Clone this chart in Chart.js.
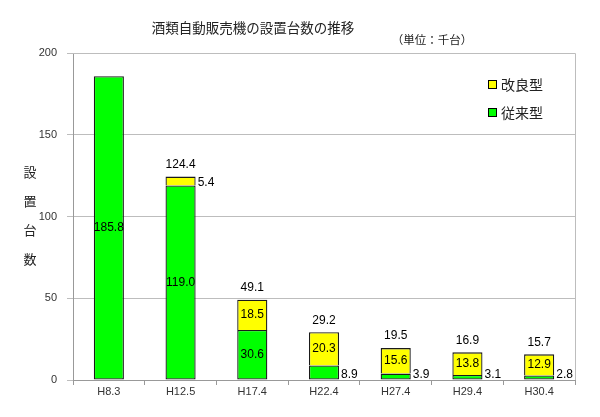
<!DOCTYPE html>
<html>
<head>
<meta charset="utf-8">
<script src="https://cdn.jsdelivr.net/npm/chart.js@4"></script>
<style>
  html, body { margin: 0; padding: 0; background: #fff; }
  #wrap { width: 600px; height: 417px; }
</style>
</head>
<body>
<div id="wrap"><canvas id="chart" width="600" height="417"></canvas></div>
<script>
// ── Data ─────────────────────────────────────────────────────────
const categories = ['H8.3', 'H12.5', 'H17.4', 'H22.4', 'H27.4', 'H29.4', 'H30.4'];
const conventional = [185.8, 119.0, 30.6, 8.9, 3.9, 3.1, 2.8];   // 従来型
const improved     = [null, 5.4, 18.5, 20.3, 15.6, 13.8, 12.9];  // 改良型

const FONT = "'Liberation Sans', Arial, 'Noto Sans CJK JP', sans-serif";
const GREEN = '#00ff00';
const YELLOW = '#ffff00';
const EDGE = '#1a1a1a';

// ── Labels, legend, titles drawn on top ──────────────────────────
const overlay = {
  id: 'overlay',
  afterDatasetsDraw(chart) {
    const { ctx, chartArea } = chart;
    ctx.save();

    // plot border (top / right)
    ctx.strokeStyle = '#bdbdbd';
    ctx.lineWidth = 1;
    ctx.beginPath();
    ctx.moveTo(chartArea.left, chartArea.top + 0.5);
    ctx.lineTo(chartArea.right + 0.5, chartArea.top + 0.5);
    ctx.lineTo(chartArea.right + 0.5, chartArea.bottom);
    ctx.stroke();

    // value labels
    ctx.fillStyle = '#000';
    ctx.font = '12px ' + FONT;
    ctx.textBaseline = 'middle';
    const metaG = chart.getDatasetMeta(0);
    const metaY = chart.getDatasetMeta(1);
    categories.forEach((_, i) => {
      [[metaG, conventional[i], 0], [metaY, improved[i], 1]].forEach(([meta, v, ds]) => {
        if (v == null) return;
        const el = meta.data[i];
        const top = Math.min(el.y, el.base), bottom = Math.max(el.y, el.base);
        const h = bottom - top;
        if (h >= 16) {
          ctx.textAlign = 'center';
          ctx.fillText(v.toFixed(1), el.x, (top + bottom) / 2);
        } else {
          ctx.textAlign = 'left';
          const y = ds === 0 ? bottom - 5 : (top + bottom) / 2 + 2;
          ctx.fillText(v.toFixed(1), el.x + el.width / 2 + 2, y);
        }
      });
      if (improved[i] != null) {
        const total = conventional[i] + improved[i];
        const el = metaY.data[i];
        ctx.textAlign = 'center';
        ctx.fillText(total.toFixed(1), el.x, el.y - 12);
      }
    });

    // legend
    const items = [['改良型', YELLOW, 85], ['従来型', GREEN, 113]];
    ctx.font = '14px ' + FONT;
    ctx.textAlign = 'left';
    items.forEach(([txt, col, y]) => {
      ctx.fillStyle = col;
      ctx.fillRect(488.5, y - 4.5, 8, 8);
      ctx.strokeStyle = '#000';
      ctx.strokeRect(488.5, y - 4.5, 8, 8);
      ctx.fillStyle = '#222';
      ctx.fillText(txt, 501, y + 1);
    });

    // title and unit
    ctx.fillStyle = '#222';
    ctx.textAlign = 'center';
    ctx.font = '13.5px ' + FONT;
    ctx.fillText('酒類自動販売機の設置台数の推移', 253, 29);
    ctx.font = '11.5px ' + FONT;
    ctx.fillText('（単位：千台）', 432, 41);

    // vertical y-axis title
    ctx.font = '13px ' + FONT;
    ['設', '置', '台', '数'].forEach((c, k) => ctx.fillText(c, 30, 173 + k * 29));

    ctx.restore();
  }
};

new Chart(document.getElementById('chart'), {
  type: 'bar',
  data: {
    labels: categories,
    datasets: [
      { label: '従来型', data: conventional, backgroundColor: GREEN, borderColor: EDGE, borderWidth: 1.3, borderSkipped: false },
      { label: '改良型', data: improved, backgroundColor: YELLOW, borderColor: EDGE, borderWidth: 1.3, borderSkipped: 'bottom' },
    ],
  },
  options: {
    responsive: false,
    animation: false,
    devicePixelRatio: 1,
    layout: { padding: { top: 53, right: 25, left: 0, bottom: 0 } },
    datasets: { bar: { categoryPercentage: 1, barPercentage: 0.42 } },
    plugins: { legend: { display: false }, title: { display: false }, tooltip: { enabled: false } },
    scales: {
      x: {
        stacked: true,
        afterFit: s => { s.height = 37; },
        grid: { drawOnChartArea: false, drawTicks: true, tickLength: 5, color: '#999', offset: true },
        border: { color: '#999' },
        ticks: { color: '#333', font: { family: FONT, size: 11 }, padding: 0 },
      },
      y: {
        stacked: true,
        min: 0, max: 200,
        afterFit: s => { s.width = 73; },
        grid: { color: '#bdbdbd', tickLength: 6 },
        border: { color: '#999' },
        ticks: { stepSize: 50, color: '#333', font: { family: FONT, size: 11 }, padding: 10 },
      },
    },
  },
  plugins: [overlay],
});
</script>
</body>
</html>
